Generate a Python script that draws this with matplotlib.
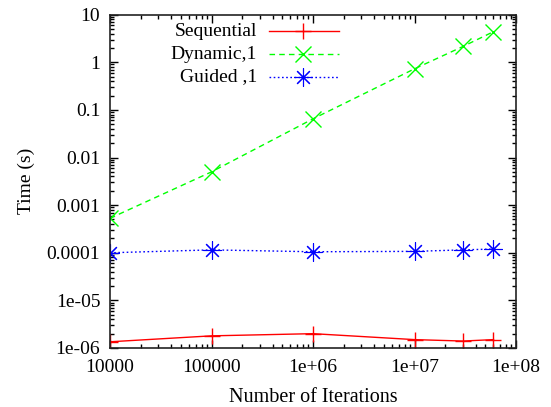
import matplotlib
matplotlib.use("Agg")
import matplotlib.pyplot as plt
from matplotlib.lines import Line2D
from matplotlib.ticker import LogLocator, NullFormatter

plt.rcParams['font.family'] = ['Liberation Serif', 'DejaVu Serif']

# values
iterations = [1e4, 1e5, 1e6, 1e7, 3e7, 6e7]
sequential = [1.35e-6, 1.8e-6, 2.0e-6, 1.5e-6, 1.4e-6, 1.5e-6]
dynamic = [5.3e-4, 5.0e-3, 0.065, 0.73, 2.15, 4.4]
guided = [1.0e-4, 1.15e-4, 1.05e-4, 1.07e-4, 1.15e-4, 1.2e-4]

labels = ['Sequential', 'Dynamic,1', 'Guided ,1']
xticks = [1e4, 1e5, 1e6, 1e7, 1e8]
xticklabels = ['10000', '100000', '1e+06', '1e+07', '1e+08']
yticks = [1e-6, 1e-5, 1e-4, 1e-3, 1e-2, 1e-1, 1, 10]
yticklabels = ['1e-06', '1e-05', '0.0001', '0.001', '0.01', '0.1', '1', '10']

styles = [
    dict(color='#ff0000', linestyle='-', marker='+', markersize=11,
         markeredgewidth=1.0),
    dict(color='#00ff00', linestyle=(0, (4, 3)), marker='x', markersize=11.5,
         markeredgewidth=1.0),
    dict(color='#0000ff', linestyle=(0, (1.2, 1.8)), marker=(8, 2, 0),
         markersize=13, markeredgewidth=0.8),
]

fig = plt.figure(figsize=(5.51, 4.07), dpi=100)
ax = fig.add_axes([110 / 551, 1 - 348 / 407, 406 / 551, 333.3 / 407])

for series, st in zip([sequential, dynamic, guided], styles):
    ax.plot(iterations, series, linewidth=1.0, **st)

ax.set_xscale('log')
ax.set_yscale('log')
ax.set_xlim(1e4, 1e8)
ax.set_ylim(1e-6, 10)
ax.set_xticks(xticks)
ax.set_xticklabels(xticklabels)
ax.set_yticks(yticks)
ax.set_yticklabels(yticklabels)
for axis in (ax.xaxis, ax.yaxis):
    axis.set_minor_locator(LogLocator(base=10, subs=range(2, 10), numticks=20))
    axis.set_minor_formatter(NullFormatter())

ax.tick_params(which='both', direction='in', top=True, right=True,
               labelsize=14, width=1.0)
ax.tick_params(which='major', length=6)
ax.tick_params(which='minor', length=3)
ax.tick_params(axis='x', which='major', pad=8)
ax.tick_params(axis='y', which='major', pad=7)
for sp in ax.spines.values():
    sp.set_linewidth(1.2)
    sp.set_color('#222222')

ax.set_xlabel('Number of Iterations', fontsize=14.5)
ax.set_ylabel('Time (s)', fontsize=14)
ax.xaxis.set_label_coords(0.5, -0.12)
ax.yaxis.set_label_coords(-0.185, 0.5)

# gnuplot-style key: text right-aligned, sample to the right
rows = [0.95, 0.882, 0.814]
for lab, st, yy in zip(labels, styles, rows):
    ax.text(0.362, yy, lab, transform=ax.transAxes, ha='right', va='center',
            fontsize=14)
    ax.add_line(Line2D([0.392, 0.564], [yy, yy], transform=ax.transAxes,
                       color=st['color'], linestyle=st['linestyle'], linewidth=1.0))
    ax.add_line(Line2D([0.475], [yy], transform=ax.transAxes,
                       color=st['color'], marker=st['marker'],
                       markersize=st['markersize'],
                       markeredgewidth=st['markeredgewidth'], linestyle='none'))

fig.savefig('out.png', dpi=100)
